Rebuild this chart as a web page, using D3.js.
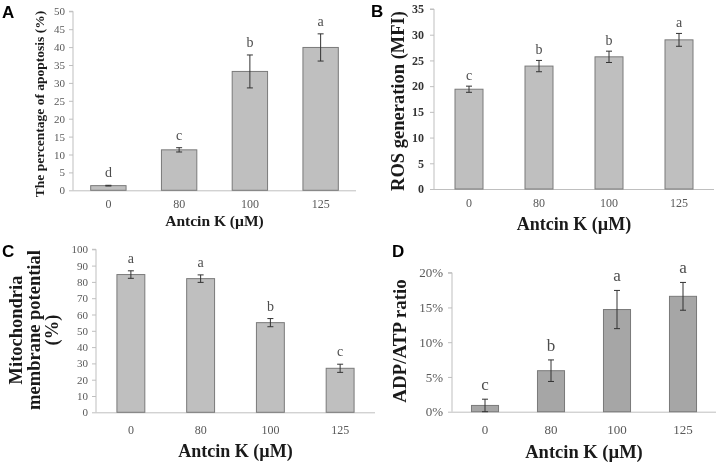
<!DOCTYPE html>
<html><head><meta charset="utf-8">
<script src="https://cdn.jsdelivr.net/npm/d3@7"></script>
<style>body{margin:0;background:#fff}svg{display:block;will-change:transform}</style>
</head><body>
<svg id="c" width="718" height="465"></svg>
<script>
const doses = ["0", "80", "100", "125"];
const apoptosis = [1.3, 11.3, 33.2, 39.9];
const apoptosisErr = [0.1, 0.6, 4.6, 3.8];
const apoptosisLetters = ["d", "c", "b", "a"];
const ros = [19.4, 23.9, 25.7, 29.0];
const rosErr = [0.6, 1.1, 1.1, 1.25];
const rosLetters = ["c", "b", "b", "a"];
const mmp = [84.5, 82.0, 55.0, 27.0];
const mmpErr = [2.3, 2.3, 2.5, 2.5];
const mmpLetters = ["a", "a", "b", "c"];
const adpAtp = [0.009, 0.059, 0.147, 0.166];
const adpAtpErr = [0.009, 0.0155, 0.0275, 0.02];
const adpAtpLetters = ["c", "b", "a", "a"];
const xTitle = "Antcin K (\u00b5M)";

const svg = d3.select("#c");
const serif = "'Liberation Serif','Times New Roman',serif";

function panel(o) {
  const g = svg.append("g").attr("opacity", 0.999);
  const x = d3.scaleBand().domain(doses).range([o.x0, o.x1]).paddingInner(0).paddingOuter(0);
  const y = d3.scaleLinear().domain([0, o.ymax]).range([o.y0, o.y1]);
  const bw = x.bandwidth() * o.ratio;
  // y axis
  const ya = d3.axisLeft(y).tickValues(d3.range(0, o.ymax + o.step / 2, o.step))
    .tickSize(4).tickPadding(o.tickPad).tickFormat(o.fmt || (d => d));
  const yg = g.append("g").attr("transform", `translate(${o.x0},0)`).call(ya);
  yg.select(".domain").attr("stroke", "#bfbfbf").attr("d", `M-4,${o.y1}H0V${o.y0}`);
  yg.selectAll(".tick line").attr("stroke", "#bfbfbf");
  yg.selectAll(".tick text").attr("font-family", serif).attr("font-size", o.yfs)
    .attr("font-weight", o.ybold ? "bold" : "normal").attr("fill", o.ycol || "#595959");
  // x axis
  const xa = d3.axisBottom(x).tickSize(0).tickPadding(o.xPad);
  const xg = g.append("g").attr("transform", `translate(0,${o.y0})`).call(xa);
  xg.select(".domain").attr("stroke", "#bfbfbf").attr("d", `M${o.x0},0.5H${o.x1}`);
  xg.selectAll(".tick text").attr("font-family", serif).attr("font-size", o.xfs).attr("fill", "#595959");
  // bars
  g.selectAll("rect.bar").data(o.vals).join("rect").attr("class", "bar")
    .attr("x", (d, i) => x(doses[i]) + (x.bandwidth() - bw) / 2)
    .attr("y", d => y(d)).attr("width", bw).attr("height", d => o.y0 - y(d))
    .attr("fill", o.fill).attr("stroke", "#7a7a7a").attr("stroke-width", 1);
  // error bars
  const cx = i => x(doses[i]) + x.bandwidth() / 2;
  const eg = g.append("g").attr("stroke", "#333").attr("stroke-width", 1);
  o.vals.forEach((v, i) => {
    const t = y(v + o.err[i]), b = y(Math.max(0, v - o.err[i]));
    eg.append("line").attr("x1", cx(i)).attr("x2", cx(i)).attr("y1", t).attr("y2", b);
    eg.append("line").attr("x1", cx(i) - 3).attr("x2", cx(i) + 3).attr("y1", t).attr("y2", t);
    eg.append("line").attr("x1", cx(i) - 3).attr("x2", cx(i) + 3).attr("y1", b).attr("y2", b);
  });
  // letters
  g.selectAll("text.lt").data(o.letters).join("text").attr("class", "lt")
    .attr("x", (d, i) => cx(i)).attr("y", (d, i) => y(o.vals[i] + o.err[i]) - o.lgap)
    .attr("text-anchor", "middle").attr("font-family", serif).attr("font-size", o.lfs)
    .attr("fill", "#4d4d4d").text(d => d);
  // x title
  g.append("text").attr("x", (o.x0 + o.x1) / 2).attr("y", o.xtY).attr("text-anchor", "middle")
    .attr("font-family", serif).attr("font-weight", "bold").attr("font-size", o.xtfs)
    .attr("fill", "#1a1a1a").text(xTitle);
  // y title
  const yt = g.append("text").attr("transform", `translate(${o.ytX},${o.ytY}) rotate(-90)`)
    .attr("text-anchor", "middle").attr("font-family", serif).attr("font-weight", "bold")
    .attr("font-size", o.ytfs).attr("fill", "#1a1a1a");
  o.ytitle.forEach((s, i) => yt.append("tspan").attr("x", 0).attr("dy", i === 0 ? 0 : o.ytLine).text(s));
  // panel label
  g.append("text").attr("x", o.lx).attr("y", o.ly).attr("font-family", "'Liberation Sans',Arial,sans-serif")
    .attr("font-weight", "bold").attr("font-size", 17).attr("fill", "#000").text(o.label);
}

panel({label: "A", lx: 2, ly: 18, x0: 73, x1: 356, y0: 190.3, y1: 11.3, ymax: 50, step: 5,
  vals: apoptosis, err: apoptosisErr, letters: apoptosisLetters, ratio: 0.5, fill: "#bfbfbf",
  yfs: 11, tickPad: 4, xfs: 12, xPad: 9, lfs: 14, lgap: 8, xtY: 226, xtfs: 15.5,
  ytitle: ["The percentage of apoptosis (%)"], ytX: 44, ytY: 104, ytfs: 13.5, ytLine: 0});

panel({label: "B", lx: 371, ly: 17, x0: 434, x1: 714, y0: 189, y1: 9, ymax: 35, step: 5,
  vals: ros, err: rosErr, letters: rosLetters, ratio: 0.4, fill: "#bfbfbf",
  yfs: 12, ybold: true, ycol: "#333", tickPad: 6, xfs: 12, xPad: 9, lfs: 14, lgap: 6, xtY: 230, xtfs: 18,
  ytitle: ["ROS generation (MFI)"], ytX: 404, ytY: 101, ytfs: 18.5, ytLine: 0});

panel({label: "C", lx: 2, ly: 257, x0: 96, x1: 375, y0: 412.3, y1: 249.3, ymax: 100, step: 10,
  vals: mmp, err: mmpErr, letters: mmpLetters, ratio: 0.4, fill: "#bfbfbf",
  yfs: 11, tickPad: 4, xfs: 12, xPad: 13, lfs: 14, lgap: 8, xtY: 457, xtfs: 18,
  ytitle: ["Mitochondria", "membrane potential", "(%)"], ytX: 22, ytY: 330, ytfs: 18.5, ytLine: 18});

panel({label: "D", lx: 392, ly: 257, x0: 452, x1: 716, y0: 411.7, y1: 272.7, ymax: 0.2, step: 0.05,
  fmt: d3.format(".0%"), vals: adpAtp, err: adpAtpErr, letters: adpAtpLetters, ratio: 0.41, fill: "#a6a6a6",
  yfs: 13, tickPad: 5, xfs: 13, xPad: 13, lfs: 17, lgap: 9, xtY: 458, xtfs: 18.5,
  ytitle: ["ADP/ATP ratio"], ytX: 406, ytY: 341, ytfs: 19, ytLine: 0});
</script>
</body></html>
